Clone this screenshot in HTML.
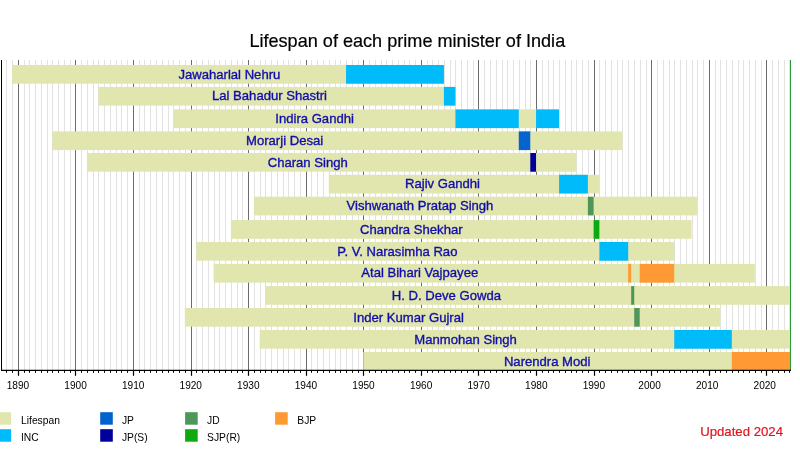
<!DOCTYPE html>
<html><head><meta charset="utf-8"><title>Lifespan of each prime minister of India</title>
<style>html,body{margin:0;padding:0;background:#fff;}body{width:800px;height:450px;overflow:hidden;font-family:"Liberation Sans",sans-serif;}svg{display:block;font-family:"Liberation Sans",sans-serif;}</style></head><body>
<svg width="800" height="450" viewBox="0 0 800 450">
<defs><filter id="sf" x="-2%" y="-20%" width="104%" height="140%"><feGaussianBlur stdDeviation="0.3"/></filter></defs>
<rect width="800" height="450" fill="#fff"/>
<g stroke="#e2e2e2" stroke-width="1">
<line x1="6.5" y1="60.0" x2="6.5" y2="370.0"/>
<line x1="12.5" y1="60.0" x2="12.5" y2="370.0"/>
<line x1="24.5" y1="60.0" x2="24.5" y2="370.0"/>
<line x1="29.5" y1="60.0" x2="29.5" y2="370.0"/>
<line x1="35.5" y1="60.0" x2="35.5" y2="370.0"/>
<line x1="41.5" y1="60.0" x2="41.5" y2="370.0"/>
<line x1="47.5" y1="60.0" x2="47.5" y2="370.0"/>
<line x1="52.5" y1="60.0" x2="52.5" y2="370.0"/>
<line x1="58.5" y1="60.0" x2="58.5" y2="370.0"/>
<line x1="64.5" y1="60.0" x2="64.5" y2="370.0"/>
<line x1="70.5" y1="60.0" x2="70.5" y2="370.0"/>
<line x1="81.5" y1="60.0" x2="81.5" y2="370.0"/>
<line x1="87.5" y1="60.0" x2="87.5" y2="370.0"/>
<line x1="93.5" y1="60.0" x2="93.5" y2="370.0"/>
<line x1="98.5" y1="60.0" x2="98.5" y2="370.0"/>
<line x1="104.5" y1="60.0" x2="104.5" y2="370.0"/>
<line x1="110.5" y1="60.0" x2="110.5" y2="370.0"/>
<line x1="116.5" y1="60.0" x2="116.5" y2="370.0"/>
<line x1="121.5" y1="60.0" x2="121.5" y2="370.0"/>
<line x1="127.5" y1="60.0" x2="127.5" y2="370.0"/>
<line x1="139.5" y1="60.0" x2="139.5" y2="370.0"/>
<line x1="144.5" y1="60.0" x2="144.5" y2="370.0"/>
<line x1="150.5" y1="60.0" x2="150.5" y2="370.0"/>
<line x1="156.5" y1="60.0" x2="156.5" y2="370.0"/>
<line x1="162.5" y1="60.0" x2="162.5" y2="370.0"/>
<line x1="168.5" y1="60.0" x2="168.5" y2="370.0"/>
<line x1="173.5" y1="60.0" x2="173.5" y2="370.0"/>
<line x1="179.5" y1="60.0" x2="179.5" y2="370.0"/>
<line x1="185.5" y1="60.0" x2="185.5" y2="370.0"/>
<line x1="196.5" y1="60.0" x2="196.5" y2="370.0"/>
<line x1="202.5" y1="60.0" x2="202.5" y2="370.0"/>
<line x1="208.5" y1="60.0" x2="208.5" y2="370.0"/>
<line x1="214.5" y1="60.0" x2="214.5" y2="370.0"/>
<line x1="219.5" y1="60.0" x2="219.5" y2="370.0"/>
<line x1="225.5" y1="60.0" x2="225.5" y2="370.0"/>
<line x1="231.5" y1="60.0" x2="231.5" y2="370.0"/>
<line x1="237.5" y1="60.0" x2="237.5" y2="370.0"/>
<line x1="242.5" y1="60.0" x2="242.5" y2="370.0"/>
<line x1="254.5" y1="60.0" x2="254.5" y2="370.0"/>
<line x1="260.5" y1="60.0" x2="260.5" y2="370.0"/>
<line x1="265.5" y1="60.0" x2="265.5" y2="370.0"/>
<line x1="271.5" y1="60.0" x2="271.5" y2="370.0"/>
<line x1="277.5" y1="60.0" x2="277.5" y2="370.0"/>
<line x1="283.5" y1="60.0" x2="283.5" y2="370.0"/>
<line x1="288.5" y1="60.0" x2="288.5" y2="370.0"/>
<line x1="294.5" y1="60.0" x2="294.5" y2="370.0"/>
<line x1="300.5" y1="60.0" x2="300.5" y2="370.0"/>
<line x1="311.5" y1="60.0" x2="311.5" y2="370.0"/>
<line x1="317.5" y1="60.0" x2="317.5" y2="370.0"/>
<line x1="323.5" y1="60.0" x2="323.5" y2="370.0"/>
<line x1="329.5" y1="60.0" x2="329.5" y2="370.0"/>
<line x1="335.5" y1="60.0" x2="335.5" y2="370.0"/>
<line x1="340.5" y1="60.0" x2="340.5" y2="370.0"/>
<line x1="346.5" y1="60.0" x2="346.5" y2="370.0"/>
<line x1="352.5" y1="60.0" x2="352.5" y2="370.0"/>
<line x1="358.5" y1="60.0" x2="358.5" y2="370.0"/>
<line x1="369.5" y1="60.0" x2="369.5" y2="370.0"/>
<line x1="375.5" y1="60.0" x2="375.5" y2="370.0"/>
<line x1="381.5" y1="60.0" x2="381.5" y2="370.0"/>
<line x1="386.5" y1="60.0" x2="386.5" y2="370.0"/>
<line x1="392.5" y1="60.0" x2="392.5" y2="370.0"/>
<line x1="398.5" y1="60.0" x2="398.5" y2="370.0"/>
<line x1="404.5" y1="60.0" x2="404.5" y2="370.0"/>
<line x1="409.5" y1="60.0" x2="409.5" y2="370.0"/>
<line x1="415.5" y1="60.0" x2="415.5" y2="370.0"/>
<line x1="427.5" y1="60.0" x2="427.5" y2="370.0"/>
<line x1="432.5" y1="60.0" x2="432.5" y2="370.0"/>
<line x1="438.5" y1="60.0" x2="438.5" y2="370.0"/>
<line x1="444.5" y1="60.0" x2="444.5" y2="370.0"/>
<line x1="450.5" y1="60.0" x2="450.5" y2="370.0"/>
<line x1="455.5" y1="60.0" x2="455.5" y2="370.0"/>
<line x1="461.5" y1="60.0" x2="461.5" y2="370.0"/>
<line x1="467.5" y1="60.0" x2="467.5" y2="370.0"/>
<line x1="473.5" y1="60.0" x2="473.5" y2="370.0"/>
<line x1="484.5" y1="60.0" x2="484.5" y2="370.0"/>
<line x1="490.5" y1="60.0" x2="490.5" y2="370.0"/>
<line x1="496.5" y1="60.0" x2="496.5" y2="370.0"/>
<line x1="502.5" y1="60.0" x2="502.5" y2="370.0"/>
<line x1="507.5" y1="60.0" x2="507.5" y2="370.0"/>
<line x1="513.5" y1="60.0" x2="513.5" y2="370.0"/>
<line x1="519.5" y1="60.0" x2="519.5" y2="370.0"/>
<line x1="525.5" y1="60.0" x2="525.5" y2="370.0"/>
<line x1="530.5" y1="60.0" x2="530.5" y2="370.0"/>
<line x1="542.5" y1="60.0" x2="542.5" y2="370.0"/>
<line x1="548.5" y1="60.0" x2="548.5" y2="370.0"/>
<line x1="553.5" y1="60.0" x2="553.5" y2="370.0"/>
<line x1="559.5" y1="60.0" x2="559.5" y2="370.0"/>
<line x1="565.5" y1="60.0" x2="565.5" y2="370.0"/>
<line x1="571.5" y1="60.0" x2="571.5" y2="370.0"/>
<line x1="576.5" y1="60.0" x2="576.5" y2="370.0"/>
<line x1="582.5" y1="60.0" x2="582.5" y2="370.0"/>
<line x1="588.5" y1="60.0" x2="588.5" y2="370.0"/>
<line x1="599.5" y1="60.0" x2="599.5" y2="370.0"/>
<line x1="605.5" y1="60.0" x2="605.5" y2="370.0"/>
<line x1="611.5" y1="60.0" x2="611.5" y2="370.0"/>
<line x1="617.5" y1="60.0" x2="617.5" y2="370.0"/>
<line x1="622.5" y1="60.0" x2="622.5" y2="370.0"/>
<line x1="628.5" y1="60.0" x2="628.5" y2="370.0"/>
<line x1="634.5" y1="60.0" x2="634.5" y2="370.0"/>
<line x1="640.5" y1="60.0" x2="640.5" y2="370.0"/>
<line x1="646.5" y1="60.0" x2="646.5" y2="370.0"/>
<line x1="657.5" y1="60.0" x2="657.5" y2="370.0"/>
<line x1="663.5" y1="60.0" x2="663.5" y2="370.0"/>
<line x1="669.5" y1="60.0" x2="669.5" y2="370.0"/>
<line x1="674.5" y1="60.0" x2="674.5" y2="370.0"/>
<line x1="680.5" y1="60.0" x2="680.5" y2="370.0"/>
<line x1="686.5" y1="60.0" x2="686.5" y2="370.0"/>
<line x1="692.5" y1="60.0" x2="692.5" y2="370.0"/>
<line x1="697.5" y1="60.0" x2="697.5" y2="370.0"/>
<line x1="703.5" y1="60.0" x2="703.5" y2="370.0"/>
<line x1="715.5" y1="60.0" x2="715.5" y2="370.0"/>
<line x1="720.5" y1="60.0" x2="720.5" y2="370.0"/>
<line x1="726.5" y1="60.0" x2="726.5" y2="370.0"/>
<line x1="732.5" y1="60.0" x2="732.5" y2="370.0"/>
<line x1="738.5" y1="60.0" x2="738.5" y2="370.0"/>
<line x1="743.5" y1="60.0" x2="743.5" y2="370.0"/>
<line x1="749.5" y1="60.0" x2="749.5" y2="370.0"/>
<line x1="755.5" y1="60.0" x2="755.5" y2="370.0"/>
<line x1="761.5" y1="60.0" x2="761.5" y2="370.0"/>
<line x1="772.5" y1="60.0" x2="772.5" y2="370.0"/>
<line x1="778.5" y1="60.0" x2="778.5" y2="370.0"/>
<line x1="784.5" y1="60.0" x2="784.5" y2="370.0"/>
<line x1="789.5" y1="60.0" x2="789.5" y2="370.0"/>
</g>
<g stroke="#6c6c6c" stroke-width="1">
<line x1="18.5" y1="60.0" x2="18.5" y2="370.0"/>
<line x1="75.5" y1="60.0" x2="75.5" y2="370.0"/>
<line x1="133.5" y1="60.0" x2="133.5" y2="370.0"/>
<line x1="191.5" y1="60.0" x2="191.5" y2="370.0"/>
<line x1="248.5" y1="60.0" x2="248.5" y2="370.0"/>
<line x1="306.5" y1="60.0" x2="306.5" y2="370.0"/>
<line x1="363.5" y1="60.0" x2="363.5" y2="370.0"/>
<line x1="421.5" y1="60.0" x2="421.5" y2="370.0"/>
<line x1="478.5" y1="60.0" x2="478.5" y2="370.0"/>
<line x1="536.5" y1="60.0" x2="536.5" y2="370.0"/>
<line x1="594.5" y1="60.0" x2="594.5" y2="370.0"/>
<line x1="651.5" y1="60.0" x2="651.5" y2="370.0"/>
<line x1="709.5" y1="60.0" x2="709.5" y2="370.0"/>
<line x1="766.5" y1="60.0" x2="766.5" y2="370.0"/>
</g>
<rect x="12.07" y="65.00" width="431.85" height="18.70" fill="#e1e6af"/>
<rect x="346.03" y="65.00" width="97.89" height="18.70" fill="#00bbfa"/>
<rect x="98.44" y="86.90" width="357.00" height="18.70" fill="#e1e6af"/>
<rect x="443.92" y="86.90" width="11.52" height="18.70" fill="#00bbfa"/>
<rect x="173.29" y="109.40" width="385.79" height="18.70" fill="#e1e6af"/>
<rect x="455.43" y="109.40" width="63.34" height="18.70" fill="#00bbfa"/>
<rect x="536.04" y="109.40" width="23.03" height="18.70" fill="#00bbfa"/>
<rect x="52.37" y="131.40" width="570.04" height="18.70" fill="#e1e6af"/>
<rect x="518.77" y="131.40" width="11.52" height="18.70" fill="#0564cd"/>
<rect x="86.92" y="153.00" width="489.43" height="18.70" fill="#e1e6af"/>
<rect x="530.29" y="153.00" width="5.76" height="18.70" fill="#00009b"/>
<rect x="328.76" y="174.80" width="270.63" height="18.70" fill="#e1e6af"/>
<rect x="559.08" y="174.80" width="28.79" height="18.70" fill="#00bbfa"/>
<rect x="253.90" y="196.70" width="443.37" height="18.70" fill="#e1e6af"/>
<rect x="587.87" y="196.70" width="5.76" height="18.70" fill="#50965a"/>
<rect x="230.87" y="220.10" width="460.64" height="18.70" fill="#e1e6af"/>
<rect x="593.62" y="220.10" width="5.76" height="18.70" fill="#0aab10"/>
<rect x="196.32" y="242.00" width="477.91" height="18.70" fill="#e1e6af"/>
<rect x="599.38" y="242.00" width="28.79" height="18.70" fill="#00bbfa"/>
<rect x="213.60" y="263.90" width="541.25" height="18.70" fill="#e1e6af"/>
<rect x="628.17" y="263.90" width="2.99" height="18.70" fill="#ff9933"/>
<rect x="639.69" y="263.90" width="34.55" height="18.70" fill="#ff9933"/>
<rect x="265.42" y="286.10" width="524.58" height="18.70" fill="#e1e6af"/>
<rect x="631.17" y="286.10" width="3.05" height="18.70" fill="#50965a"/>
<rect x="184.81" y="308.00" width="535.49" height="18.70" fill="#e1e6af"/>
<rect x="634.22" y="308.00" width="5.47" height="18.70" fill="#50965a"/>
<rect x="259.66" y="330.00" width="530.34" height="18.70" fill="#e1e6af"/>
<rect x="674.24" y="330.00" width="57.58" height="18.70" fill="#00bbfa"/>
<rect x="363.30" y="352.00" width="426.70" height="18.70" fill="#e1e6af"/>
<rect x="731.82" y="352.00" width="58.18" height="18.70" fill="#ff9933"/>
<g font-size="13.1" fill="#100cab" stroke="#100cab" stroke-width="0.35" text-anchor="middle" filter="url(#sf)">
<text x="229.40" y="78.55">Jawaharlal Nehru</text>
<text x="269.50" y="100.45">Lal Bahadur Shastri</text>
<text x="314.60" y="122.95">Indira Gandhi</text>
<text x="284.60" y="144.95">Morarji Desai</text>
<text x="307.75" y="166.55">Charan Singh</text>
<text x="442.50" y="188.35">Rajiv Gandhi</text>
<text x="420.00" y="210.25">Vishwanath Pratap Singh</text>
<text x="411.25" y="233.65">Chandra Shekhar</text>
<text x="397.40" y="255.55">P. V. Narasimha Rao</text>
<text x="419.75" y="277.45">Atal Bihari Vajpayee</text>
<text x="446.40" y="299.65">H. D. Deve Gowda</text>
<text x="408.60" y="321.55">Inder Kumar Gujral</text>
<text x="465.60" y="343.55">Manmohan Singh</text>
<text x="547.20" y="365.55">Narendra Modi</text>
</g>
<line x1="790.5" y1="60" x2="790.5" y2="370" stroke="#289a36" stroke-width="1"/>
<g stroke="#000" stroke-width="1">
<line x1="1.5" y1="60" x2="1.5" y2="370.5"/>
<line x1="1" y1="370.4" x2="791" y2="370.4" stroke-width="1.3"/>
<line x1="6.5" y1="370" x2="6.5" y2="372.8" stroke-width="1.05"/>
<line x1="12.5" y1="370" x2="12.5" y2="372.8" stroke-width="1.05"/>
<line x1="18.5" y1="370" x2="18.5" y2="375.8" stroke-width="1.2"/>
<line x1="24.5" y1="370" x2="24.5" y2="372.8" stroke-width="1.05"/>
<line x1="29.5" y1="370" x2="29.5" y2="372.8" stroke-width="1.05"/>
<line x1="35.5" y1="370" x2="35.5" y2="372.8" stroke-width="1.05"/>
<line x1="41.5" y1="370" x2="41.5" y2="372.8" stroke-width="1.05"/>
<line x1="47.5" y1="370" x2="47.5" y2="372.8" stroke-width="1.05"/>
<line x1="52.5" y1="370" x2="52.5" y2="372.8" stroke-width="1.05"/>
<line x1="58.5" y1="370" x2="58.5" y2="372.8" stroke-width="1.05"/>
<line x1="64.5" y1="370" x2="64.5" y2="372.8" stroke-width="1.05"/>
<line x1="70.5" y1="370" x2="70.5" y2="372.8" stroke-width="1.05"/>
<line x1="75.5" y1="370" x2="75.5" y2="375.8" stroke-width="1.2"/>
<line x1="81.5" y1="370" x2="81.5" y2="372.8" stroke-width="1.05"/>
<line x1="87.5" y1="370" x2="87.5" y2="372.8" stroke-width="1.05"/>
<line x1="93.5" y1="370" x2="93.5" y2="372.8" stroke-width="1.05"/>
<line x1="98.5" y1="370" x2="98.5" y2="372.8" stroke-width="1.05"/>
<line x1="104.5" y1="370" x2="104.5" y2="372.8" stroke-width="1.05"/>
<line x1="110.5" y1="370" x2="110.5" y2="372.8" stroke-width="1.05"/>
<line x1="116.5" y1="370" x2="116.5" y2="372.8" stroke-width="1.05"/>
<line x1="121.5" y1="370" x2="121.5" y2="372.8" stroke-width="1.05"/>
<line x1="127.5" y1="370" x2="127.5" y2="372.8" stroke-width="1.05"/>
<line x1="133.5" y1="370" x2="133.5" y2="375.8" stroke-width="1.2"/>
<line x1="139.5" y1="370" x2="139.5" y2="372.8" stroke-width="1.05"/>
<line x1="144.5" y1="370" x2="144.5" y2="372.8" stroke-width="1.05"/>
<line x1="150.5" y1="370" x2="150.5" y2="372.8" stroke-width="1.05"/>
<line x1="156.5" y1="370" x2="156.5" y2="372.8" stroke-width="1.05"/>
<line x1="162.5" y1="370" x2="162.5" y2="372.8" stroke-width="1.05"/>
<line x1="168.5" y1="370" x2="168.5" y2="372.8" stroke-width="1.05"/>
<line x1="173.5" y1="370" x2="173.5" y2="372.8" stroke-width="1.05"/>
<line x1="179.5" y1="370" x2="179.5" y2="372.8" stroke-width="1.05"/>
<line x1="185.5" y1="370" x2="185.5" y2="372.8" stroke-width="1.05"/>
<line x1="191.5" y1="370" x2="191.5" y2="375.8" stroke-width="1.2"/>
<line x1="196.5" y1="370" x2="196.5" y2="372.8" stroke-width="1.05"/>
<line x1="202.5" y1="370" x2="202.5" y2="372.8" stroke-width="1.05"/>
<line x1="208.5" y1="370" x2="208.5" y2="372.8" stroke-width="1.05"/>
<line x1="214.5" y1="370" x2="214.5" y2="372.8" stroke-width="1.05"/>
<line x1="219.5" y1="370" x2="219.5" y2="372.8" stroke-width="1.05"/>
<line x1="225.5" y1="370" x2="225.5" y2="372.8" stroke-width="1.05"/>
<line x1="231.5" y1="370" x2="231.5" y2="372.8" stroke-width="1.05"/>
<line x1="237.5" y1="370" x2="237.5" y2="372.8" stroke-width="1.05"/>
<line x1="242.5" y1="370" x2="242.5" y2="372.8" stroke-width="1.05"/>
<line x1="248.5" y1="370" x2="248.5" y2="375.8" stroke-width="1.2"/>
<line x1="254.5" y1="370" x2="254.5" y2="372.8" stroke-width="1.05"/>
<line x1="260.5" y1="370" x2="260.5" y2="372.8" stroke-width="1.05"/>
<line x1="265.5" y1="370" x2="265.5" y2="372.8" stroke-width="1.05"/>
<line x1="271.5" y1="370" x2="271.5" y2="372.8" stroke-width="1.05"/>
<line x1="277.5" y1="370" x2="277.5" y2="372.8" stroke-width="1.05"/>
<line x1="283.5" y1="370" x2="283.5" y2="372.8" stroke-width="1.05"/>
<line x1="288.5" y1="370" x2="288.5" y2="372.8" stroke-width="1.05"/>
<line x1="294.5" y1="370" x2="294.5" y2="372.8" stroke-width="1.05"/>
<line x1="300.5" y1="370" x2="300.5" y2="372.8" stroke-width="1.05"/>
<line x1="306.5" y1="370" x2="306.5" y2="375.8" stroke-width="1.2"/>
<line x1="311.5" y1="370" x2="311.5" y2="372.8" stroke-width="1.05"/>
<line x1="317.5" y1="370" x2="317.5" y2="372.8" stroke-width="1.05"/>
<line x1="323.5" y1="370" x2="323.5" y2="372.8" stroke-width="1.05"/>
<line x1="329.5" y1="370" x2="329.5" y2="372.8" stroke-width="1.05"/>
<line x1="335.5" y1="370" x2="335.5" y2="372.8" stroke-width="1.05"/>
<line x1="340.5" y1="370" x2="340.5" y2="372.8" stroke-width="1.05"/>
<line x1="346.5" y1="370" x2="346.5" y2="372.8" stroke-width="1.05"/>
<line x1="352.5" y1="370" x2="352.5" y2="372.8" stroke-width="1.05"/>
<line x1="358.5" y1="370" x2="358.5" y2="372.8" stroke-width="1.05"/>
<line x1="363.5" y1="370" x2="363.5" y2="375.8" stroke-width="1.2"/>
<line x1="369.5" y1="370" x2="369.5" y2="372.8" stroke-width="1.05"/>
<line x1="375.5" y1="370" x2="375.5" y2="372.8" stroke-width="1.05"/>
<line x1="381.5" y1="370" x2="381.5" y2="372.8" stroke-width="1.05"/>
<line x1="386.5" y1="370" x2="386.5" y2="372.8" stroke-width="1.05"/>
<line x1="392.5" y1="370" x2="392.5" y2="372.8" stroke-width="1.05"/>
<line x1="398.5" y1="370" x2="398.5" y2="372.8" stroke-width="1.05"/>
<line x1="404.5" y1="370" x2="404.5" y2="372.8" stroke-width="1.05"/>
<line x1="409.5" y1="370" x2="409.5" y2="372.8" stroke-width="1.05"/>
<line x1="415.5" y1="370" x2="415.5" y2="372.8" stroke-width="1.05"/>
<line x1="421.5" y1="370" x2="421.5" y2="375.8" stroke-width="1.2"/>
<line x1="427.5" y1="370" x2="427.5" y2="372.8" stroke-width="1.05"/>
<line x1="432.5" y1="370" x2="432.5" y2="372.8" stroke-width="1.05"/>
<line x1="438.5" y1="370" x2="438.5" y2="372.8" stroke-width="1.05"/>
<line x1="444.5" y1="370" x2="444.5" y2="372.8" stroke-width="1.05"/>
<line x1="450.5" y1="370" x2="450.5" y2="372.8" stroke-width="1.05"/>
<line x1="455.5" y1="370" x2="455.5" y2="372.8" stroke-width="1.05"/>
<line x1="461.5" y1="370" x2="461.5" y2="372.8" stroke-width="1.05"/>
<line x1="467.5" y1="370" x2="467.5" y2="372.8" stroke-width="1.05"/>
<line x1="473.5" y1="370" x2="473.5" y2="372.8" stroke-width="1.05"/>
<line x1="478.5" y1="370" x2="478.5" y2="375.8" stroke-width="1.2"/>
<line x1="484.5" y1="370" x2="484.5" y2="372.8" stroke-width="1.05"/>
<line x1="490.5" y1="370" x2="490.5" y2="372.8" stroke-width="1.05"/>
<line x1="496.5" y1="370" x2="496.5" y2="372.8" stroke-width="1.05"/>
<line x1="502.5" y1="370" x2="502.5" y2="372.8" stroke-width="1.05"/>
<line x1="507.5" y1="370" x2="507.5" y2="372.8" stroke-width="1.05"/>
<line x1="513.5" y1="370" x2="513.5" y2="372.8" stroke-width="1.05"/>
<line x1="519.5" y1="370" x2="519.5" y2="372.8" stroke-width="1.05"/>
<line x1="525.5" y1="370" x2="525.5" y2="372.8" stroke-width="1.05"/>
<line x1="530.5" y1="370" x2="530.5" y2="372.8" stroke-width="1.05"/>
<line x1="536.5" y1="370" x2="536.5" y2="375.8" stroke-width="1.2"/>
<line x1="542.5" y1="370" x2="542.5" y2="372.8" stroke-width="1.05"/>
<line x1="548.5" y1="370" x2="548.5" y2="372.8" stroke-width="1.05"/>
<line x1="553.5" y1="370" x2="553.5" y2="372.8" stroke-width="1.05"/>
<line x1="559.5" y1="370" x2="559.5" y2="372.8" stroke-width="1.05"/>
<line x1="565.5" y1="370" x2="565.5" y2="372.8" stroke-width="1.05"/>
<line x1="571.5" y1="370" x2="571.5" y2="372.8" stroke-width="1.05"/>
<line x1="576.5" y1="370" x2="576.5" y2="372.8" stroke-width="1.05"/>
<line x1="582.5" y1="370" x2="582.5" y2="372.8" stroke-width="1.05"/>
<line x1="588.5" y1="370" x2="588.5" y2="372.8" stroke-width="1.05"/>
<line x1="594.5" y1="370" x2="594.5" y2="375.8" stroke-width="1.2"/>
<line x1="599.5" y1="370" x2="599.5" y2="372.8" stroke-width="1.05"/>
<line x1="605.5" y1="370" x2="605.5" y2="372.8" stroke-width="1.05"/>
<line x1="611.5" y1="370" x2="611.5" y2="372.8" stroke-width="1.05"/>
<line x1="617.5" y1="370" x2="617.5" y2="372.8" stroke-width="1.05"/>
<line x1="622.5" y1="370" x2="622.5" y2="372.8" stroke-width="1.05"/>
<line x1="628.5" y1="370" x2="628.5" y2="372.8" stroke-width="1.05"/>
<line x1="634.5" y1="370" x2="634.5" y2="372.8" stroke-width="1.05"/>
<line x1="640.5" y1="370" x2="640.5" y2="372.8" stroke-width="1.05"/>
<line x1="646.5" y1="370" x2="646.5" y2="372.8" stroke-width="1.05"/>
<line x1="651.5" y1="370" x2="651.5" y2="375.8" stroke-width="1.2"/>
<line x1="657.5" y1="370" x2="657.5" y2="372.8" stroke-width="1.05"/>
<line x1="663.5" y1="370" x2="663.5" y2="372.8" stroke-width="1.05"/>
<line x1="669.5" y1="370" x2="669.5" y2="372.8" stroke-width="1.05"/>
<line x1="674.5" y1="370" x2="674.5" y2="372.8" stroke-width="1.05"/>
<line x1="680.5" y1="370" x2="680.5" y2="372.8" stroke-width="1.05"/>
<line x1="686.5" y1="370" x2="686.5" y2="372.8" stroke-width="1.05"/>
<line x1="692.5" y1="370" x2="692.5" y2="372.8" stroke-width="1.05"/>
<line x1="697.5" y1="370" x2="697.5" y2="372.8" stroke-width="1.05"/>
<line x1="703.5" y1="370" x2="703.5" y2="372.8" stroke-width="1.05"/>
<line x1="709.5" y1="370" x2="709.5" y2="375.8" stroke-width="1.2"/>
<line x1="715.5" y1="370" x2="715.5" y2="372.8" stroke-width="1.05"/>
<line x1="720.5" y1="370" x2="720.5" y2="372.8" stroke-width="1.05"/>
<line x1="726.5" y1="370" x2="726.5" y2="372.8" stroke-width="1.05"/>
<line x1="732.5" y1="370" x2="732.5" y2="372.8" stroke-width="1.05"/>
<line x1="738.5" y1="370" x2="738.5" y2="372.8" stroke-width="1.05"/>
<line x1="743.5" y1="370" x2="743.5" y2="372.8" stroke-width="1.05"/>
<line x1="749.5" y1="370" x2="749.5" y2="372.8" stroke-width="1.05"/>
<line x1="755.5" y1="370" x2="755.5" y2="372.8" stroke-width="1.05"/>
<line x1="761.5" y1="370" x2="761.5" y2="372.8" stroke-width="1.05"/>
<line x1="766.5" y1="370" x2="766.5" y2="375.8" stroke-width="1.2"/>
<line x1="772.5" y1="370" x2="772.5" y2="372.8" stroke-width="1.05"/>
<line x1="778.5" y1="370" x2="778.5" y2="372.8" stroke-width="1.05"/>
<line x1="784.5" y1="370" x2="784.5" y2="372.8" stroke-width="1.05"/>
<line x1="789.5" y1="370" x2="789.5" y2="372.8" stroke-width="1.05"/>
</g>
<g font-size="10.1" fill="#000" text-anchor="middle" filter="url(#sf)">
<text x="17.98" y="389">1890</text>
<text x="75.57" y="389">1900</text>
<text x="133.16" y="389">1910</text>
<text x="190.75" y="389">1920</text>
<text x="248.34" y="389">1930</text>
<text x="305.93" y="389">1940</text>
<text x="363.52" y="389">1950</text>
<text x="421.11" y="389">1960</text>
<text x="478.70" y="389">1970</text>
<text x="536.29" y="389">1980</text>
<text x="593.88" y="389">1990</text>
<text x="649.57" y="389">2000</text>
<text x="707.16" y="389">2010</text>
<text x="764.75" y="389">2020</text>
</g>
<text x="407.3" y="46.6" font-size="18.1" fill="#000" stroke="#000" stroke-width="0.2" text-anchor="middle" filter="url(#sf)">Lifespan of each prime minister of India</text>
<g font-size="10.3" fill="#000" filter="url(#sf)">
<rect x="-1.5" y="412.2" width="12.6" height="12.5" fill="#e1e6af"/>
<text x="21.0" y="423.6">Lifespan</text>
<rect x="-1.5" y="429.2" width="12.6" height="12.5" fill="#00bbfa"/>
<text x="21.0" y="440.6">INC</text>
<rect x="100.2" y="412.2" width="12.6" height="12.5" fill="#0564cd"/>
<text x="121.9" y="423.6">JP</text>
<rect x="100.2" y="429.2" width="12.6" height="12.5" fill="#00009b"/>
<text x="121.9" y="440.6">JP(S)</text>
<rect x="185.1" y="412.2" width="12.6" height="12.5" fill="#50965a"/>
<text x="207.1" y="423.6">JD</text>
<rect x="185.1" y="429.2" width="12.6" height="12.5" fill="#0aab10"/>
<text x="207.1" y="440.6">SJP(R)</text>
<rect x="275.1" y="412.2" width="12.6" height="12.5" fill="#ff9933"/>
<text x="297.3" y="423.6">BJP</text>
</g>
<text x="741.6" y="435.6" font-size="13.2" fill="#e0141e" stroke="#e0141e" stroke-width="0.2" text-anchor="middle" filter="url(#sf)">Updated 2024</text>
</svg></body></html>
